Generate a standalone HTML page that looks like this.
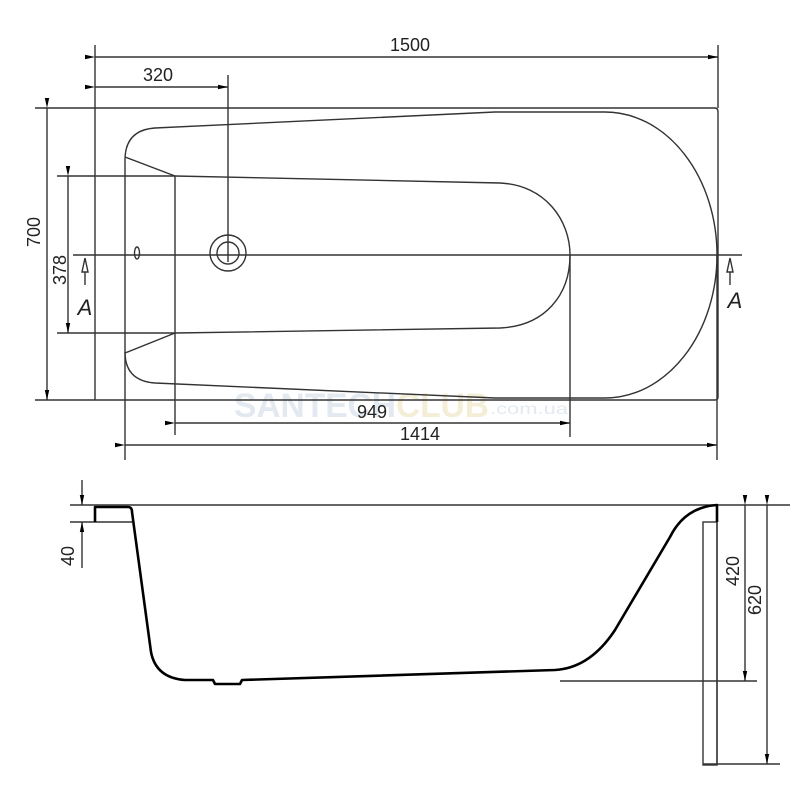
<!DOCTYPE html>
<html><head><style>body{margin:0;background:#fff}svg{display:block}</style></head><body>
<svg width="800" height="800" viewBox="0 0 800 800" xmlns="http://www.w3.org/2000/svg" font-family="Liberation Sans, sans-serif" font-size="18">
<defs>
<marker id="a" markerWidth="10" markerHeight="6" refX="10" refY="3" orient="auto" markerUnits="userSpaceOnUse"><path d="M0,0.8 L10,3 L0,5.2Z" fill="#000"/></marker>
</defs>
<rect width="800" height="800" fill="#fff"/>
<text x="234" y="417" font-size="34" fill="#e3e9f0" font-weight="bold" textLength="255" lengthAdjust="spacingAndGlyphs">SANTECH<tspan fill="#f4eed6">CLUB</tspan></text>
<text x="490" y="414" font-size="16" fill="#e3e9f0" textLength="78" lengthAdjust="spacingAndGlyphs">.com.ua</text>
<g stroke="#333" stroke-width="1.4" fill="none">
<line x1="95" y1="45" x2="95" y2="400"/><line x1="718" y1="45" x2="718" y2="108"/>
<line x1="95" y1="57" x2="718" y2="57" marker-start="url(#a)" marker-end="url(#a)"/>
<line x1="95" y1="87" x2="228" y2="87" marker-start="url(#a)" marker-end="url(#a)"/>
<line x1="228" y1="75" x2="228" y2="262"/>
<path d="M95,108 H715 Q718,108 718,112 V397 Q718,400 715,400 H95"/>
<line x1="35" y1="108" x2="95" y2="108"/><line x1="35" y1="400" x2="95" y2="400"/>
<line x1="47" y1="108" x2="47" y2="400" marker-start="url(#a)" marker-end="url(#a)"/>
<line x1="68" y1="176" x2="68" y2="333" marker-start="url(#a)" marker-end="url(#a)"/>
<path d="M125,160 Q125,130 155,128 L495,112 L605,112 A112,143 0 0 1 605,398 L495,398 L155,383 Q125,381 125,352"/>
<line x1="125" y1="160" x2="125" y2="460"/>
<line x1="125" y1="157" x2="175" y2="176"/><line x1="125" y1="353" x2="175" y2="333"/>
<line x1="57" y1="176" x2="175" y2="176"/>
<path d="M175,176 L500,183 C545,185 570,220 570,255 C570,295 545,326 500,328 L175,333"/>
<line x1="57" y1="333" x2="175" y2="333"/>
<line x1="175" y1="176" x2="175" y2="435"/>
<line x1="570" y1="255" x2="570" y2="437"/>
<line x1="73" y1="255" x2="742" y2="255"/>
<line x1="717" y1="255" x2="717" y2="460"/>
<circle cx="228" cy="253" r="18"/><circle cx="228" cy="253" r="11"/>
<ellipse cx="137" cy="253" rx="2.5" ry="6"/>
<line x1="175" y1="423" x2="570" y2="423" marker-start="url(#a)" marker-end="url(#a)"/>
<line x1="125" y1="445" x2="717" y2="445" marker-start="url(#a)" marker-end="url(#a)"/>
<path d="M85,258 L82,272 L88,272Z M85,272 V285"/>
<path d="M730,258 L727,272 L733,272Z M730,272 V285"/>
</g>
<g fill="#222">
<text x="410" y="51" text-anchor="middle">1500</text>
<text x="158" y="81" text-anchor="middle">320</text>
<text x="372" y="418" text-anchor="middle">949</text>
<text x="420" y="440" text-anchor="middle">1414</text>
<text transform="translate(40,232) rotate(-90)" text-anchor="middle">700</text>
<text transform="translate(66,270) rotate(-90)" text-anchor="middle">378</text>
<text x="85" y="315" text-anchor="middle" font-style="italic" font-size="22">A</text>
<text x="735" y="308" text-anchor="middle" font-style="italic" font-size="22">A</text>
<text transform="translate(74,556) rotate(-90)" text-anchor="middle">40</text>
<text transform="translate(739,571) rotate(-90)" text-anchor="middle">420</text>
<text transform="translate(761,600) rotate(-90)" text-anchor="middle">620</text>
</g>
<g stroke="#333" stroke-width="1.4" fill="none">
<line x1="70" y1="505" x2="790" y2="505"/>
<line x1="70" y1="522" x2="132" y2="522"/>
<line x1="82" y1="480" x2="82" y2="505" marker-end="url(#a)"/>
<line x1="82" y1="568" x2="82" y2="522" marker-end="url(#a)"/>
<rect x="703" y="522" width="14" height="243"/>
<line x1="717" y1="505" x2="717" y2="765"/>
<line x1="560" y1="681" x2="757" y2="681"/>
<line x1="703" y1="764" x2="780" y2="764"/>
<line x1="745" y1="505" x2="745" y2="681" marker-start="url(#a)" marker-end="url(#a)"/>
<line x1="767" y1="505" x2="767" y2="764" marker-start="url(#a)" marker-end="url(#a)"/>
</g>
<path d="M95,522 V507 H128 Q132,507 132,512 L151,652 Q156,678 185,680 L213,680 L215,684 L240,684 L242,680 L555,670 Q590,668 615,630 L670,537 Q685,507 717,505 V522" stroke="#000" stroke-width="2.6" fill="none" stroke-linejoin="round"/>
</svg>
</body></html>
